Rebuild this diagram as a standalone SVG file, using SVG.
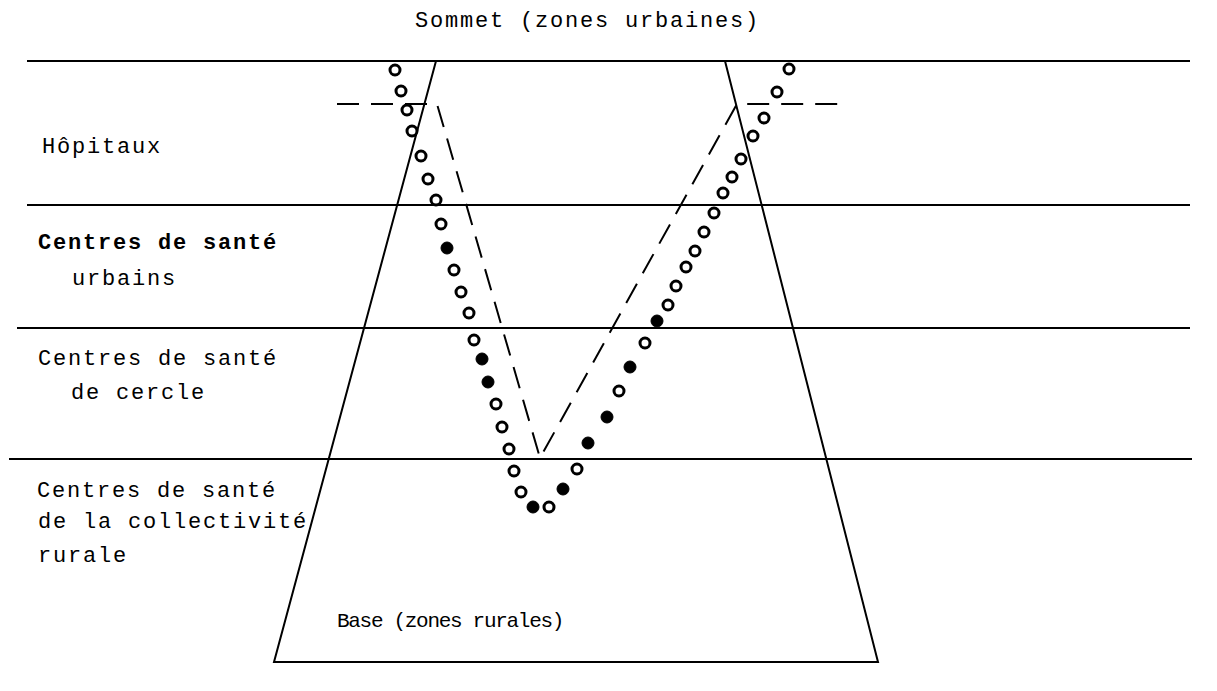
<svg xmlns="http://www.w3.org/2000/svg" width="1217" height="691" viewBox="0 0 1217 691">
<style>
.ln{stroke:#000;stroke-width:2;fill:none}
.ds{stroke:#000;stroke-width:2;fill:none;stroke-dasharray:22 12}
.o{fill:#fff;stroke:#000;stroke-width:3}
.f{fill:#000;stroke:#000;stroke-width:1}
text{font-family:"Liberation Mono","DejaVu Sans Mono",monospace;font-size:22px;letter-spacing:1.8px;fill:#000}
.b{font-weight:bold}
.base{font-size:21px;letter-spacing:-1.3px}
</style>
<rect width="1217" height="691" fill="#fff"/>
<g id="levels">
<line class="ln" x1="27" y1="61" x2="1190" y2="61"/>
<line class="ln" x1="27" y1="205" x2="1190" y2="205"/>
<line class="ln" x1="17" y1="328" x2="1190" y2="328"/>
<line class="ln" x1="9" y1="459" x2="1192" y2="459"/>
</g>
<g id="pyramid">
<polyline class="ln" points="436,61 274,662 878,662 725,61"/>
</g>
<g id="connectors">
<polyline class="ds" points="337,104 437,104 540,458 737,104 838,104"/>
</g>
<g id="circles">
<circle class="o" cx="395" cy="70" r="5"/>
<circle class="o" cx="401" cy="91" r="5"/>
<circle class="o" cx="407" cy="110" r="5"/>
<circle class="o" cx="412" cy="131" r="5"/>
<circle class="o" cx="421" cy="156" r="5"/>
<circle class="o" cx="428" cy="179" r="5"/>
<circle class="o" cx="436" cy="200" r="5"/>
<circle class="o" cx="441" cy="224" r="5"/>
<circle class="f" cx="447" cy="248" r="6"/>
<circle class="o" cx="454" cy="270" r="5"/>
<circle class="o" cx="461" cy="292" r="5"/>
<circle class="o" cx="469" cy="313" r="5"/>
<circle class="o" cx="474" cy="340" r="5"/>
<circle class="f" cx="482" cy="359" r="6"/>
<circle class="f" cx="488" cy="382" r="6"/>
<circle class="o" cx="496" cy="404" r="5"/>
<circle class="o" cx="502" cy="427" r="5"/>
<circle class="o" cx="509" cy="449" r="5"/>
<circle class="o" cx="514" cy="471" r="5"/>
<circle class="o" cx="521" cy="492" r="5"/>
<circle class="f" cx="533" cy="507" r="6"/>
<circle class="o" cx="549" cy="507" r="5"/>
<circle class="f" cx="563" cy="489" r="6"/>
<circle class="o" cx="577" cy="469" r="5"/>
<circle class="f" cx="588" cy="443" r="6"/>
<circle class="f" cx="607" cy="417" r="6"/>
<circle class="o" cx="619" cy="391" r="5"/>
<circle class="f" cx="630" cy="367" r="6"/>
<circle class="o" cx="645" cy="343" r="5"/>
<circle class="f" cx="657" cy="321" r="6"/>
<circle class="o" cx="668" cy="305" r="5"/>
<circle class="o" cx="676" cy="286" r="5"/>
<circle class="o" cx="686" cy="267" r="5"/>
<circle class="o" cx="695" cy="251" r="5"/>
<circle class="o" cx="704" cy="232" r="5"/>
<circle class="o" cx="714" cy="213" r="5"/>
<circle class="o" cx="723" cy="193" r="5"/>
<circle class="o" cx="732" cy="177" r="5"/>
<circle class="o" cx="741" cy="159" r="5"/>
<circle class="o" cx="753" cy="136" r="5"/>
<circle class="o" cx="764" cy="118" r="5"/>
<circle class="o" cx="777" cy="92" r="5"/>
<circle class="o" cx="789" cy="69" r="5"/>
</g>
<g id="label-sommet"><text x="415" y="27">Sommet (zones urbaines)</text></g>
<g id="label-hopitaux"><text x="42" y="153">Hôpitaux</text></g>
<g id="label-urbains"><text class="b" x="38" y="249">Centres de santé</text><text x="72" y="285">urbains</text></g>
<g id="label-cercle"><text x="38" y="365">Centres de santé</text><text x="71" y="399">de cercle</text></g>
<g id="label-rurale"><text x="37" y="497">Centres de santé</text><text x="38" y="528">de la collectivité</text><text x="38" y="562">rurale</text></g>
<g id="label-base"><text class="base" x="337" y="627">Base (zones rurales)</text></g>
</svg>
